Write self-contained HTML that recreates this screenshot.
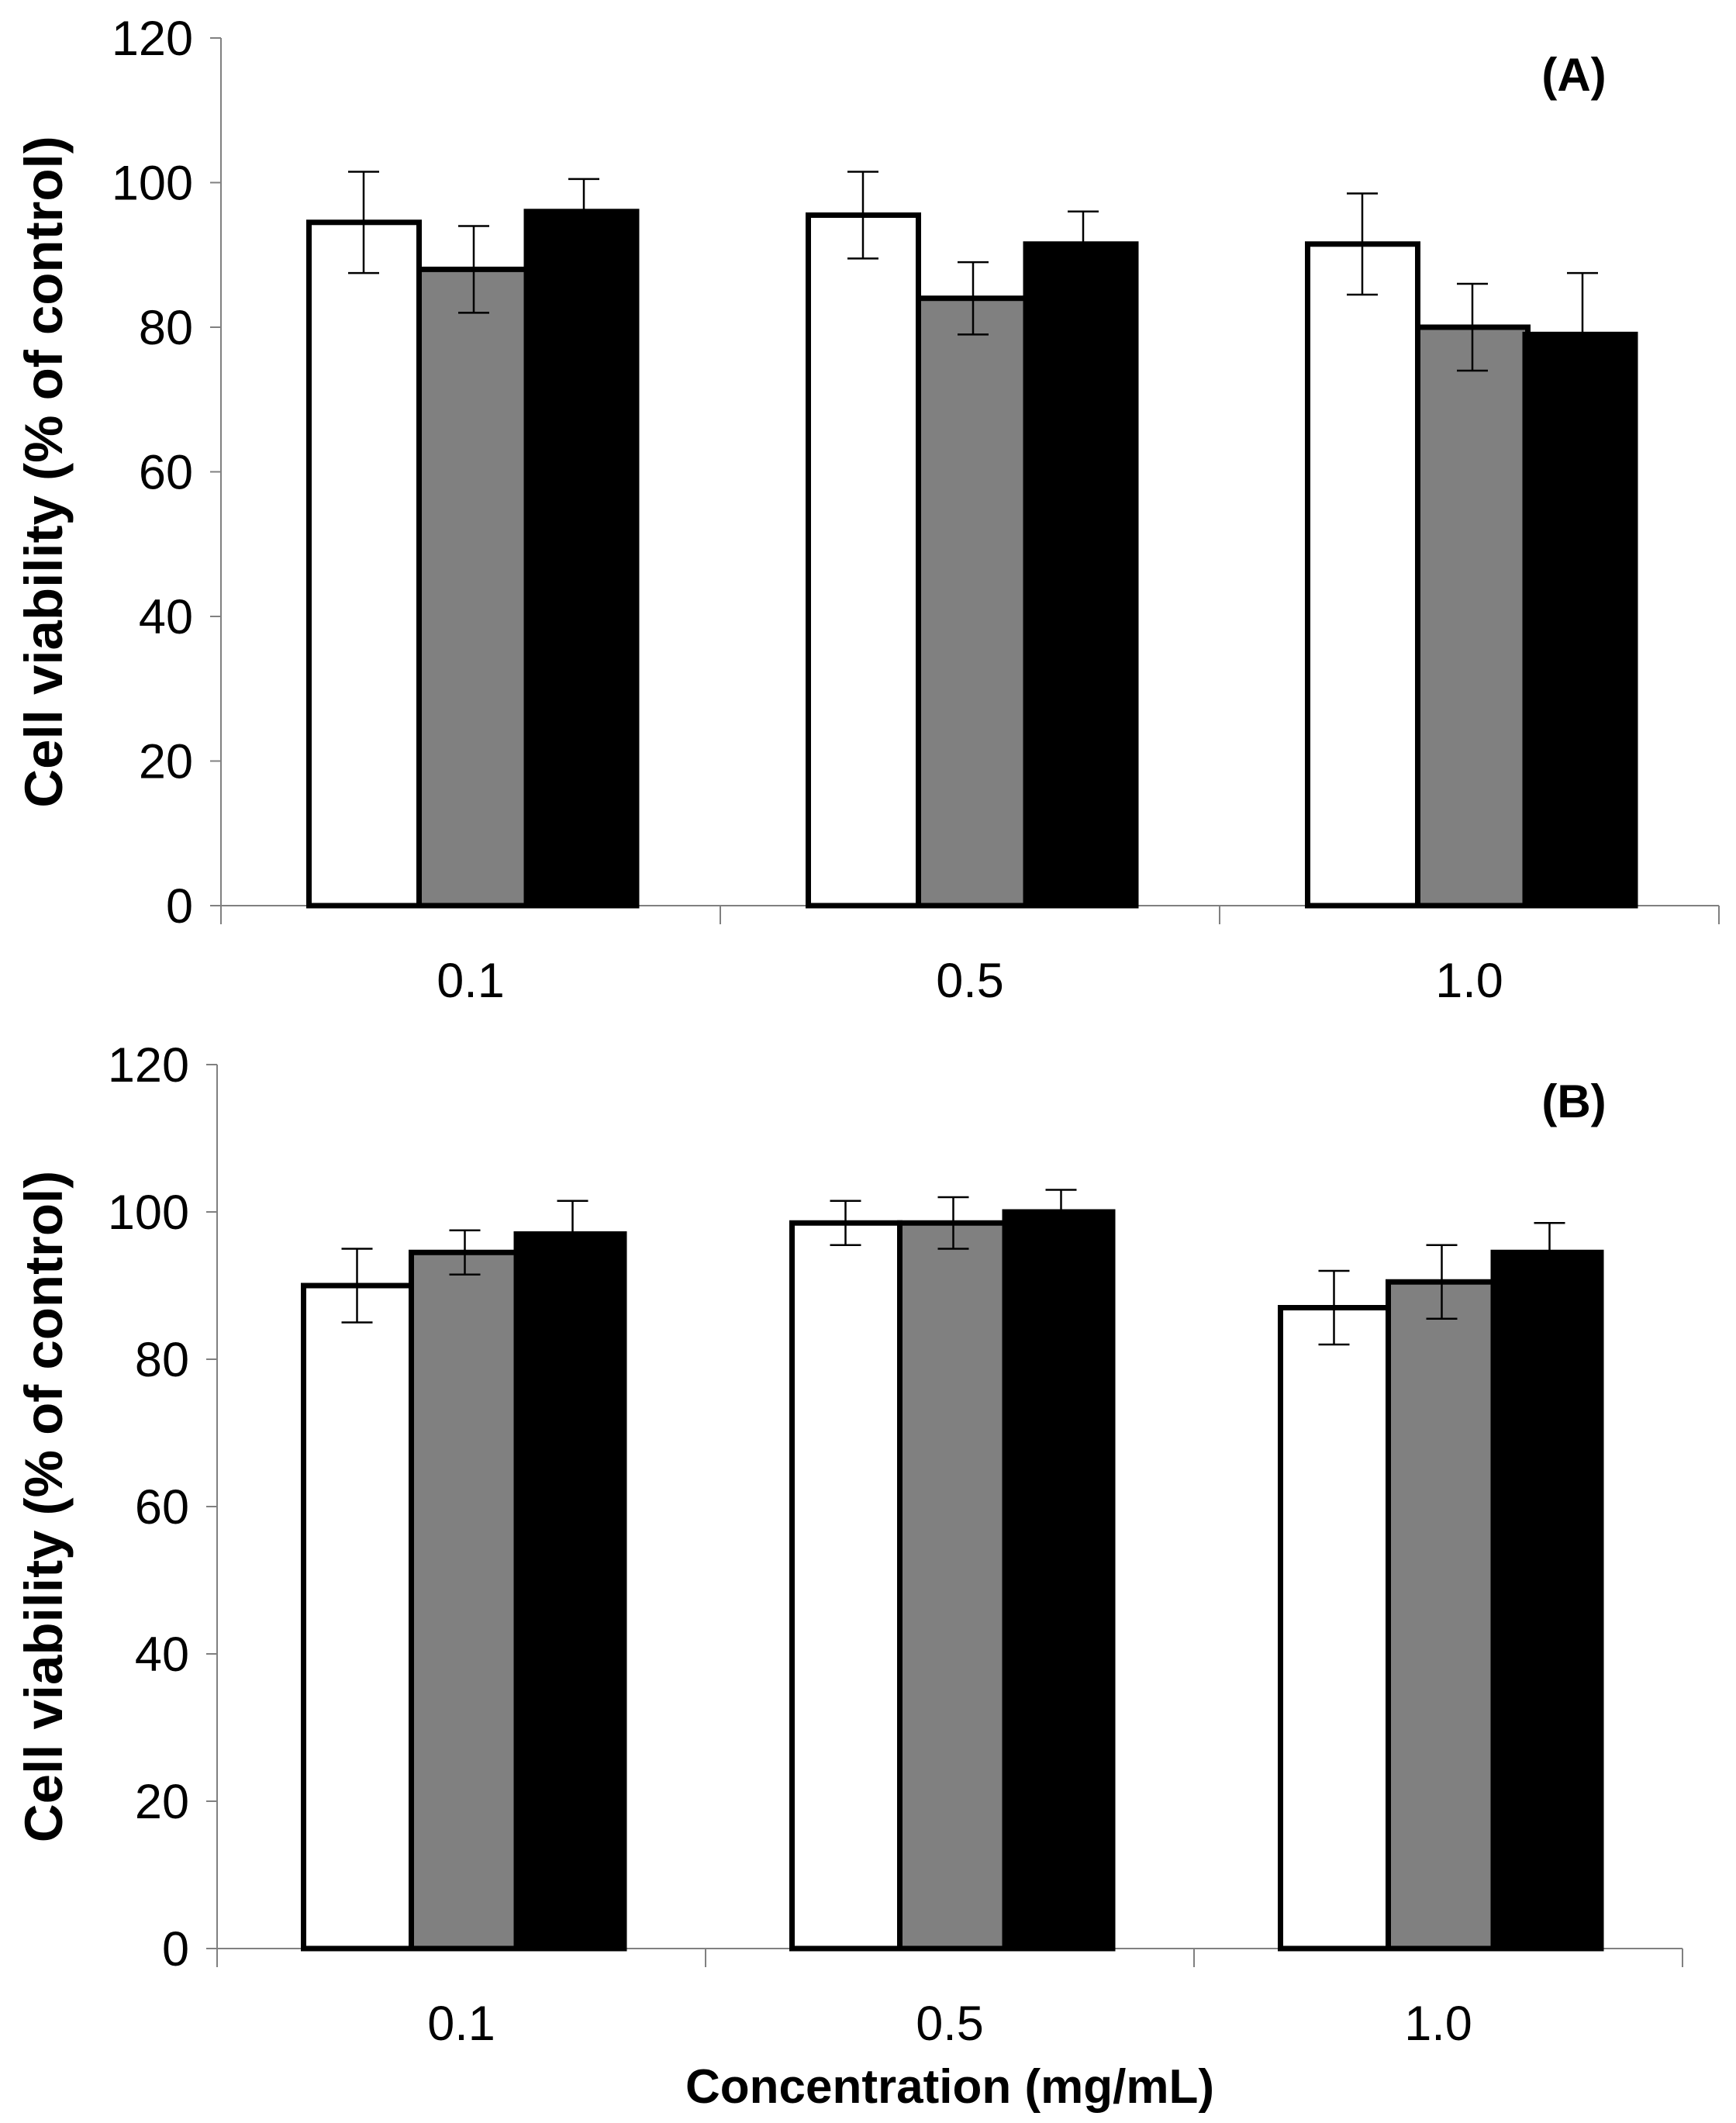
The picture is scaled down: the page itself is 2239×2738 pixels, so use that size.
<!DOCTYPE html>
<html><head><meta charset="utf-8"><style>
html,body{margin:0;padding:0;background:#fff}
svg{display:block}
text{font-family:"Liberation Sans",Arial,sans-serif}
</style></head><body>
<svg id="fig" width="2239" height="2738" viewBox="0 0 2239 2738" xmlns="http://www.w3.org/2000/svg">
<rect width="2239" height="2738" fill="#fff"/>
</svg>
<script>
const categories = ["0.1", "0.5", "1.0"];
const yTicks = [0, 20, 40, 60, 80, 100, 120];
const seriesColors = ["#ffffff", "#808080", "#000000"];
const aWhite = [94.5, 95.5, 91.5];
const aGray = [88, 84, 80];
const aBlack = [96, 91.5, 79];
const aWhiteErr = [7, 6, 7];
const aGrayErr = [6, 5, 6];
const aBlackErr = [4.5, 4.5, 8.5];
const bWhite = [90, 98.5, 87];
const bGray = [94.5, 98.5, 90.5];
const bBlack = [97, 100, 94.5];
const bWhiteErr = [5, 3, 5];
const bGrayErr = [3, 3.5, 5];
const bBlackErr = [4.5, 3, 4];

const NS = "http://www.w3.org/2000/svg";
const svg = document.getElementById("fig");
function mk(tag, attrs, parent) {
  const e = document.createElementNS(NS, tag);
  for (const k in attrs) e.setAttribute(k, attrs[k]);
  (parent || svg).appendChild(e);
  return e;
}

function panel(cfg) {
  const g = mk("g", {});
  
  
  const yScale = v => cfg.y0 + (cfg.y120 - cfg.y0) * v / 120;
  const xEnd = cfg.axisX + cfg.catW * categories.length;
  const ya = mk("line", {x1: cfg.axisX, y1: cfg.y120, x2: cfg.axisX, y2: cfg.y0 + 12, stroke: "#808080", "stroke-width": 2}, g);
  
  
  yTicks.forEach(t => {
    const y = yScale(t);
    mk("line", {x1: cfg.axisX - 14, y1: y, x2: cfg.axisX, y2: y, stroke: "#808080", "stroke-width": 2}, g);
    const tx = mk("text", {x: cfg.axisX - 36, y: y + 22, "text-anchor": "end", "font-size": 63, fill: "#000"}, g);
    tx.textContent = t;
    
    
  });
  const xa = mk("line", {x1: cfg.axisX, y1: cfg.y0, x2: xEnd, y2: cfg.y0, stroke: "#808080", "stroke-width": 2}, g);
  
  
  for (let i = 0; i <= categories.length; i++) {
    const x = cfg.axisX + i * cfg.catW;
    mk("line", {x1: x, y1: cfg.y0, x2: x, y2: cfg.y0 + 24, stroke: "#808080", "stroke-width": 2}, g);
  }
  const series = cfg.series, errs = cfg.errs;
  categories.forEach((c, i) => {
    const gx = cfg.axisX + i * cfg.catW + cfg.off;
    series.forEach((s, j) => {
      const x = gx + j * cfg.barW;
      const yt = yScale(s[i]);
      const r = mk("rect", {x: x + 3.5, y: yt, width: cfg.barW - (j === 2 ? 3.5 : 0), height: cfg.y0 - yt, fill: seriesColors[j], stroke: "#000", "stroke-width": 7}, g);
      if (j === 2) { r.setAttribute("x", x); r.setAttribute("width", cfg.barW); }
      
      
      const cx = x + cfg.barW / 2 + 3;
      const yh = yScale(s[i] + errs[j][i]), yl = yScale(s[i] - errs[j][i]);
      const eb = mk("g", {stroke: "#000", "stroke-width": 2.5}, g);
      
      
      mk("line", {x1: cx, y1: yh, x2: cx, y2: yl}, eb);
      mk("line", {x1: cx - 20, y1: yh, x2: cx + 20, y2: yh}, eb);
      mk("line", {x1: cx - 20, y1: yl, x2: cx + 20, y2: yl}, eb);
    });
    const lt = mk("text", {x: cfg.axisX + (i + 0.5) * cfg.catW, y: cfg.y0 + 118, "text-anchor": "middle", "font-size": 63}, g);
    lt.textContent = c;
    
    
  });
  const yt = mk("text", {x: 0, y: 0, "text-anchor": "middle", "font-size": 69, "font-weight": "bold",
    transform: `translate(80,${(cfg.y120 + cfg.y0) / 2}) rotate(-90)`}, g);
  yt.textContent = "Cell viability (% of control)";
  
  
  const pl = mk("text", {x: 2030, y: cfg.y120 + 68, "text-anchor": "middle", "font-size": 60, "font-weight": "bold"}, g);
  pl.textContent = cfg.label;
  
  
}

panel({name: "panel-a", label: "(A)", axisX: 285, y120: 49, y0: 1168, catW: 644, off: 110, barW: 142,
  series: [aWhite, aGray, aBlack], errs: [aWhiteErr, aGrayErr, aBlackErr]});
panel({name: "panel-b", label: "(B)", axisX: 280, y120: 1373, y0: 2513, catW: 630, off: 108, barW: 139,
  series: [bWhite, bGray, bBlack], errs: [bWhiteErr, bGrayErr, bBlackErr]});

const xt = mk("text", {x: 1225, y: 2712, "text-anchor": "middle", "font-size": 62, "font-weight": "bold"});
xt.textContent = "Concentration (mg/mL)";


</script>
</body></html>
